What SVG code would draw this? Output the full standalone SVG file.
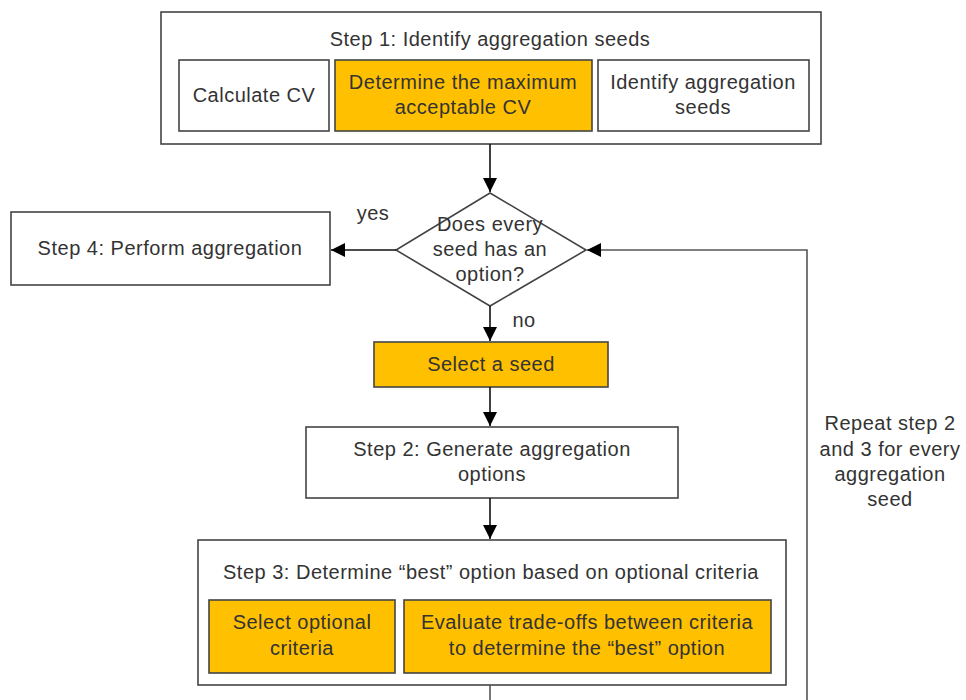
<svg xmlns="http://www.w3.org/2000/svg" width="966" height="700" viewBox="0 0 966 700">
<defs>
<marker id="ah" viewBox="0 0 10 10" refX="10" refY="5" markerWidth="14" markerHeight="14" markerUnits="userSpaceOnUse" orient="auto">
<path d="M0,0 L10,5 L0,10 z" fill="#000"/>
</marker>
</defs>
<style>
.box{fill:#fff;stroke:#444;stroke-width:1.6}
.org{fill:#FFC000;stroke:#444;stroke-width:1.6}
.t{font-family:"Liberation Sans",Arial,sans-serif;font-size:20px;letter-spacing:0.5px;fill:#333;text-anchor:middle}
.ln{stroke:#111;stroke-width:1.6;fill:none}
.lp{stroke:#555;stroke-width:1.6;fill:none}
</style>
<rect width="966" height="700" fill="#fff"/>
<g id="step1">
<rect class="box" x="161" y="12" width="660" height="132"/>
<text class="t" x="490" y="46">Step 1: Identify aggregation seeds</text>
</g>
<g id="calc">
<rect class="box" x="179" y="60" width="150" height="71"/>
<text class="t" x="254" y="102">Calculate CV</text>
</g>
<g id="maxcv">
<rect class="org" x="335" y="60" width="257" height="71"/>
<text class="t" x="463" y="89">Determine the maximum</text>
<text class="t" x="463" y="114">acceptable CV</text>
</g>
<g id="ident">
<rect class="box" x="598" y="60" width="211" height="71"/>
<text class="t" x="703" y="89">Identify aggregation</text>
<text class="t" x="703" y="114">seeds</text>
</g>
<g id="decision">
<polygon class="box" points="490,193 586,250 490,306 396,250"/>
<text class="t" x="490" y="231">Does every</text>
<text class="t" x="490" y="256">seed has an</text>
<text class="t" x="490" y="281">option?</text>
</g>
<g id="step4">
<rect class="box" x="11" y="212" width="319" height="73"/>
<text class="t" x="170" y="255">Step 4: Perform aggregation</text>
</g>
<g id="select">
<rect class="org" x="374" y="342" width="234" height="45"/>
<text class="t" x="491" y="371">Select a seed</text>
</g>
<g id="step2">
<rect class="box" x="306" y="427" width="372" height="71"/>
<text class="t" x="492" y="456">Step 2: Generate aggregation</text>
<text class="t" x="492" y="481">options</text>
</g>
<g id="step3">
<rect class="box" x="198" y="540" width="588" height="145"/>
<text class="t" x="491" y="579">Step 3: Determine “best” option based on optional criteria</text>
</g>
<g id="optcrit">
<rect class="org" x="209" y="600" width="186" height="73"/>
<text class="t" x="302" y="629">Select optional</text>
<text class="t" x="302" y="655">criteria</text>
</g>
<g id="evaluate">
<rect class="org" x="404" y="600" width="367" height="73"/>
<text class="t" x="587" y="629">Evaluate trade-offs between criteria</text>
<text class="t" x="587" y="655">to determine the  “best” option</text>
</g>
<g id="connectors">
<line class="ln" x1="490" y1="144" x2="490" y2="192" marker-end="url(#ah)"/>
<line class="ln" x1="396" y1="250" x2="331" y2="250" marker-end="url(#ah)"/>
<line class="ln" x1="490" y1="306" x2="490" y2="341" marker-end="url(#ah)"/>
<line class="ln" x1="490" y1="387" x2="490" y2="426" marker-end="url(#ah)"/>
<line class="ln" x1="490" y1="498" x2="490" y2="539" marker-end="url(#ah)"/>
<line class="lp" x1="490" y1="685" x2="490" y2="700"/>
<polyline class="lp" points="807,700 807,250 587,250" marker-end="url(#ah)"/>
<text class="t" x="373" y="220">yes</text>
<text class="t" x="524" y="327">no</text>
<text class="t" x="890" y="430">Repeat step 2</text>
<text class="t" x="890" y="456">and 3 for every</text>
<text class="t" x="890" y="481">aggregation</text>
<text class="t" x="890" y="506">seed</text>
</g>
</svg>
